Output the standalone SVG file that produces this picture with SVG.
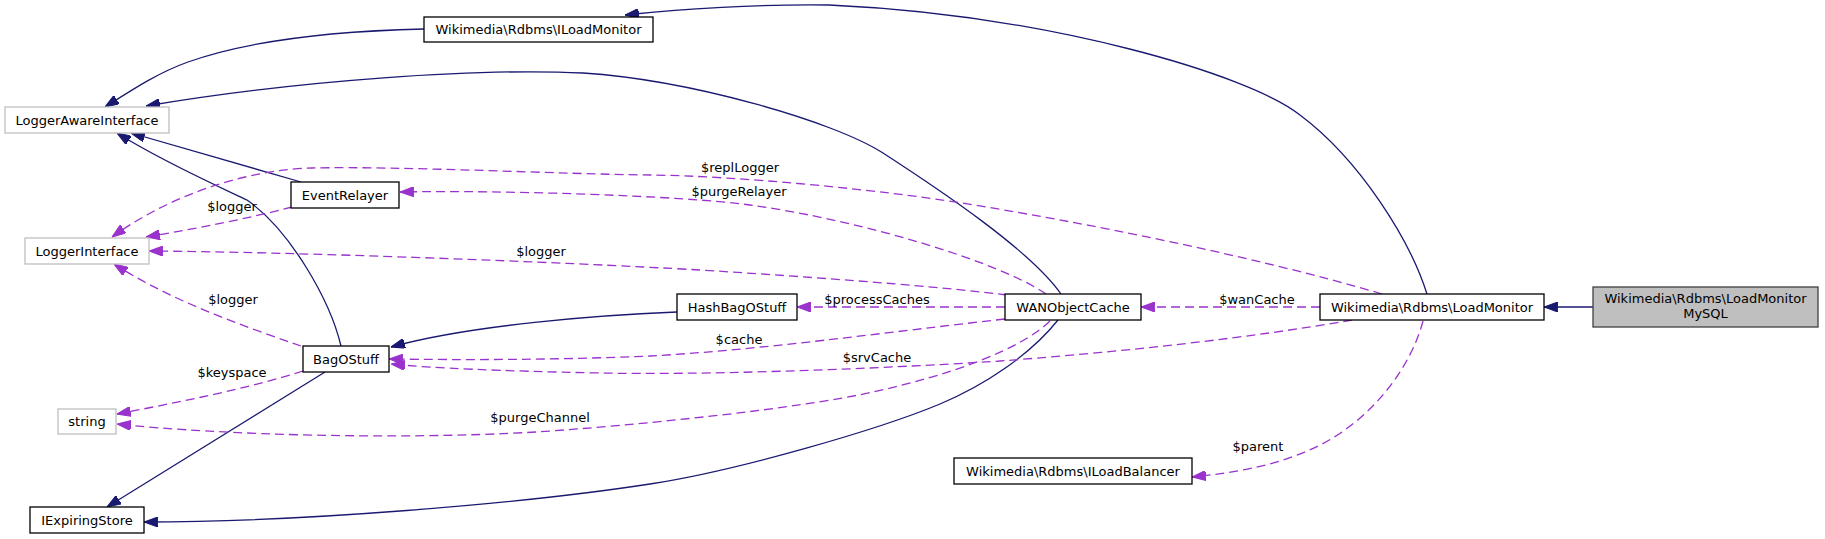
<svg xmlns="http://www.w3.org/2000/svg" width="1825" height="539" viewBox="0 0 1825 539">
<style>
text{font-family:"DejaVu Sans","Liberation Sans",sans-serif;font-size:13px;fill:#000;text-anchor:middle}
.box{fill:#fff;stroke:#000;stroke-width:1.3}
.ext{fill:#fff;stroke:#bfbfbf;stroke-width:1.3}
.root{fill:#bfbfbf;stroke:#404040;stroke-width:1.3}
.inh{fill:none;stroke:#191970;stroke-width:1.3;marker-end:url(#ah)}
.use{fill:none;stroke:#9a32cd;stroke-width:1.3;stroke-dasharray:9,5;marker-end:url(#au)}
</style>
<defs>
<marker id="ah" markerUnits="userSpaceOnUse" markerWidth="14" markerHeight="10" refX="13" refY="4.7" viewBox="0 0 13 9.4" orient="auto"><path d="M0,0 L13,4.7 L0,9.4 z" fill="#191970" stroke="#191970"/></marker>
<marker id="au" markerUnits="userSpaceOnUse" markerWidth="14" markerHeight="10" refX="13" refY="4.7" viewBox="0 0 13 9.4" orient="auto"><path d="M0,0 L13,4.7 L0,9.4 z" fill="#9a32cd" stroke="#9a32cd"/></marker>
</defs>
<rect width="1825" height="539" fill="#fff"/>
<g id="connectors">
<path class="inh" d="M424,29 C340,31 250,40 188,62 C160,72 138,86 105,107"/>
<path class="inh" d="M1061,294 C1030,250 940,190 883,153 C833,121 690,80 583,73 C480,68 300,80 146,106"/>
<path class="inh" d="M1427,294 C1410,240 1360,160 1300,115 C1250,75 1050,15 829,5 C760,4 680,9 625,15"/>
<path class="inh" d="M301,182 L131,133"/>
<path class="inh" d="M341,346 C330,300 290,230 247,200 C215,185 160,160 117,133"/>
<path class="inh" d="M677,312 C600,315 470,325 391,347"/>
<path class="inh" d="M1058,320 C1030,355 985,385 940,404 C880,429 740,470 650,484 C520,504 300,522 144,522"/>
<path class="inh" d="M325,372 L107,507"/>
<path class="inh" d="M1593,307 L1544,307"/>
<path class="use" d="M1382,294 C1250,255 1080,222 962,203 C880,190 740,176 650,175 C560,174 400,166 312,168 C260,169 180,188 112,237"/>
<path class="use" d="M1046,294 C1000,262 860,220 750,205 C680,195.5 500,190 400,192"/>
<path class="use" d="M1007,295 C960,289 860,280 700,270 C560,262 300,252 149,251"/>
<path class="use" d="M301,346 C240,325 170,300 114,264"/>
<path class="use" d="M292,207 C250,218 200,228 146,237"/>
<path class="use" d="M303,371 C250,388 180,402 117,414"/>
<path class="use" d="M1050,321 C1020,350 950,375 873,392 C796,409 640,425 536,432 C400,440 220,435 117,424"/>
<path class="use" d="M1005,307 L797,307"/>
<path class="use" d="M1005,319 C880,333 760,350 650,356 C560,360 460,360 389,359"/>
<path class="use" d="M1352,320 C1250,338 1120,352 1000,361 C860,370 700,375 600,373 C500,371 430,368 391,364"/>
<path class="use" d="M1320,307 L1141,307"/>
<path class="use" d="M1423,321 C1410,370 1370,420 1320,445 C1280,465 1240,472 1192,477"/>
</g>
<g id="labels">
<text x="232" y="210.5">$logger</text>
<text x="541" y="255.5">$logger</text>
<text x="233" y="303.5">$logger</text>
<text x="232" y="376.5">$keyspace</text>
<text x="540" y="421.5">$purgeChannel</text>
<text x="740" y="171.5">$replLogger</text>
<text x="739" y="195.5">$purgeRelayer</text>
<text x="877" y="303.5">$processCaches</text>
<text x="739" y="343.5">$cache</text>
<text x="877" y="361.5">$srvCache</text>
<text x="1257" y="303.5">$wanCache</text>
<text x="1258" y="450.5">$parent</text>
</g>
<g id="n_mysql"><rect class="root" x="1593" y="287" width="225" height="40"/><text x="1705.5" y="303">Wikimedia\Rdbms\LoadMonitor</text><text x="1705.5" y="318">MySQL</text></g>
<g id="n_loadmonitor"><rect class="box" x="1320" y="294" width="224" height="26"/><text x="1432" y="311.5">Wikimedia\Rdbms\LoadMonitor</text></g>
<g id="n_iloadmonitor"><rect class="box" x="424" y="17" width="229" height="25"/><text x="538.5" y="34">Wikimedia\Rdbms\ILoadMonitor</text></g>
<g id="n_loggerawareinterface"><rect class="ext" x="5" y="107" width="164" height="26"/><text x="87" y="124.5">LoggerAwareInterface</text></g>
<g id="n_eventrelayer"><rect class="box" x="291" y="182" width="108" height="26"/><text x="345" y="199.5">EventRelayer</text></g>
<g id="n_loggerinterface"><rect class="ext" x="25" y="238" width="124" height="26"/><text x="87" y="255.5">LoggerInterface</text></g>
<g id="n_bagostuff"><rect class="box" x="303" y="346" width="86" height="26"/><text x="346" y="363.5">BagOStuff</text></g>
<g id="n_string"><rect class="ext" x="58" y="409" width="58" height="25"/><text x="87" y="426">string</text></g>
<g id="n_iexpiringstore"><rect class="box" x="30" y="507" width="114" height="26"/><text x="87" y="524.5">IExpiringStore</text></g>
<g id="n_hashbagostuff"><rect class="box" x="677" y="294" width="120" height="26"/><text x="737" y="311.5">HashBagOStuff</text></g>
<g id="n_wanobjectcache"><rect class="box" x="1005" y="294" width="136" height="26"/><text x="1073" y="311.5">WANObjectCache</text></g>
<g id="n_iloadbalancer"><rect class="box" x="954" y="458" width="238" height="26"/><text x="1073" y="475.5">Wikimedia\Rdbms\ILoadBalancer</text></g>
</svg>
